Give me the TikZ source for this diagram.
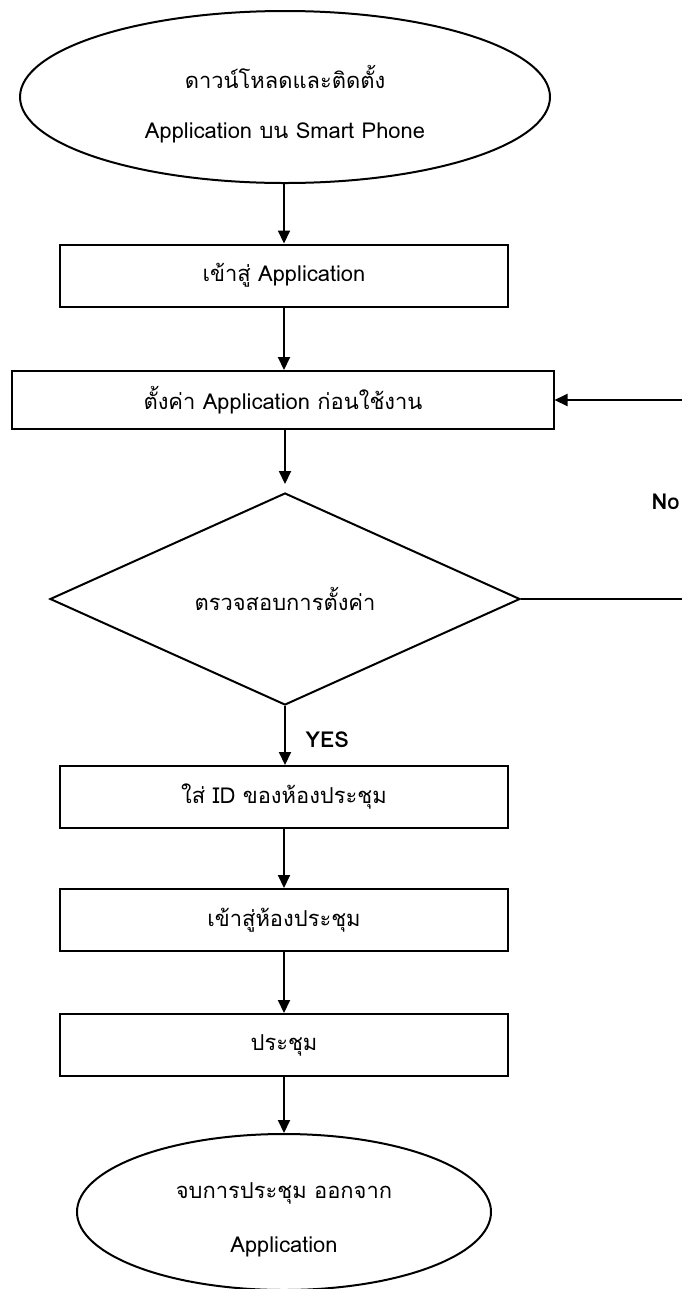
\documentclass[tikz,border=0pt]{standalone}
\usepackage{fontspec}
\setmainfont[Script=Thai]{Loma}
\usetikzlibrary{arrows.meta,shapes.geometric}
\begin{document}
\begin{tikzpicture}[x=1bp,y=-1bp,
  txt/.style={font=\fontsize{22}{26}\selectfont},
  box/.style={draw,line width=2bp,inner sep=0pt,minimum height=62bp,minimum width=447bp,txt},
  oval/.style={draw,ellipse,line width=2bp,inner sep=0pt},
  dia/.style={draw,diamond,line width=2bp,inner sep=0pt,minimum width=470bp,minimum height=212bp,txt},
  arr/.style={line width=2bp,-{Triangle[length=13bp,width=12bp]}},
  lbl/.style={font=\fontsize{22}{26}\selectfont\bfseries}]
\useasboundingbox (0,0) rectangle (682,1289);
\clip (0,0) rectangle (682,1289);
\node[oval,minimum width=530bp,minimum height=172bp] (start) at (285,97) {};
\node[txt] (startA) at (285,77) {ดาวน์โหลดและติดตั้ง};
\node[txt] (startB) at (285,133) {Application บน Smart Phone};
\node[box] (r1) at (284,275.5) {เข้าสู่ Application};
\node[box,minimum width=541bp,minimum height=58bp] (r2) at (283,400) {ตั้งค่า Application ก่อนใช้งาน};
\node[dia] (d) at (285,599) {ตรวจสอบการตั้งค่า};
\node[box] (r3) at (284,797) {ใส่ ID ของห้องประชุม};
\node[box] (r4) at (284,920) {เข้าสู่ห้องประชุม};
\node[box] (r5) at (284,1045) {ประชุม};
\node[oval,minimum width=414bp,minimum height=156bp] (end) at (284,1212) {};
\node[txt] (endA) at (284,1193) {จบการประชุม ออกจาก};
\node[txt] (endB) at (284,1247) {Application};
\node[lbl,anchor=west] (no) at (648,502) {No};
\node[lbl,anchor=west] (yes) at (302,740) {YES};
\draw[arr] (start.south -| r1.north) -- (r1.north);
\draw[arr] (r1.south) -- (r1.south |- r2.north);
\draw[arr,shorten >=8bp] (r2.south -| d.north) -- (d.north);
\draw[arr] (d.south) -- (d.south |- r3.north);
\draw[arr] (r3.south) -- (r4.north);
\draw[arr] (r4.south) -- (r5.north);
\draw[arr] (r5.south) -- (r5.south |- end.north);
\coordinate (loopA) at (720,599);
\draw[arr] (d.east) -- (loopA) |- (r2.east);
\end{tikzpicture}
\end{document}
